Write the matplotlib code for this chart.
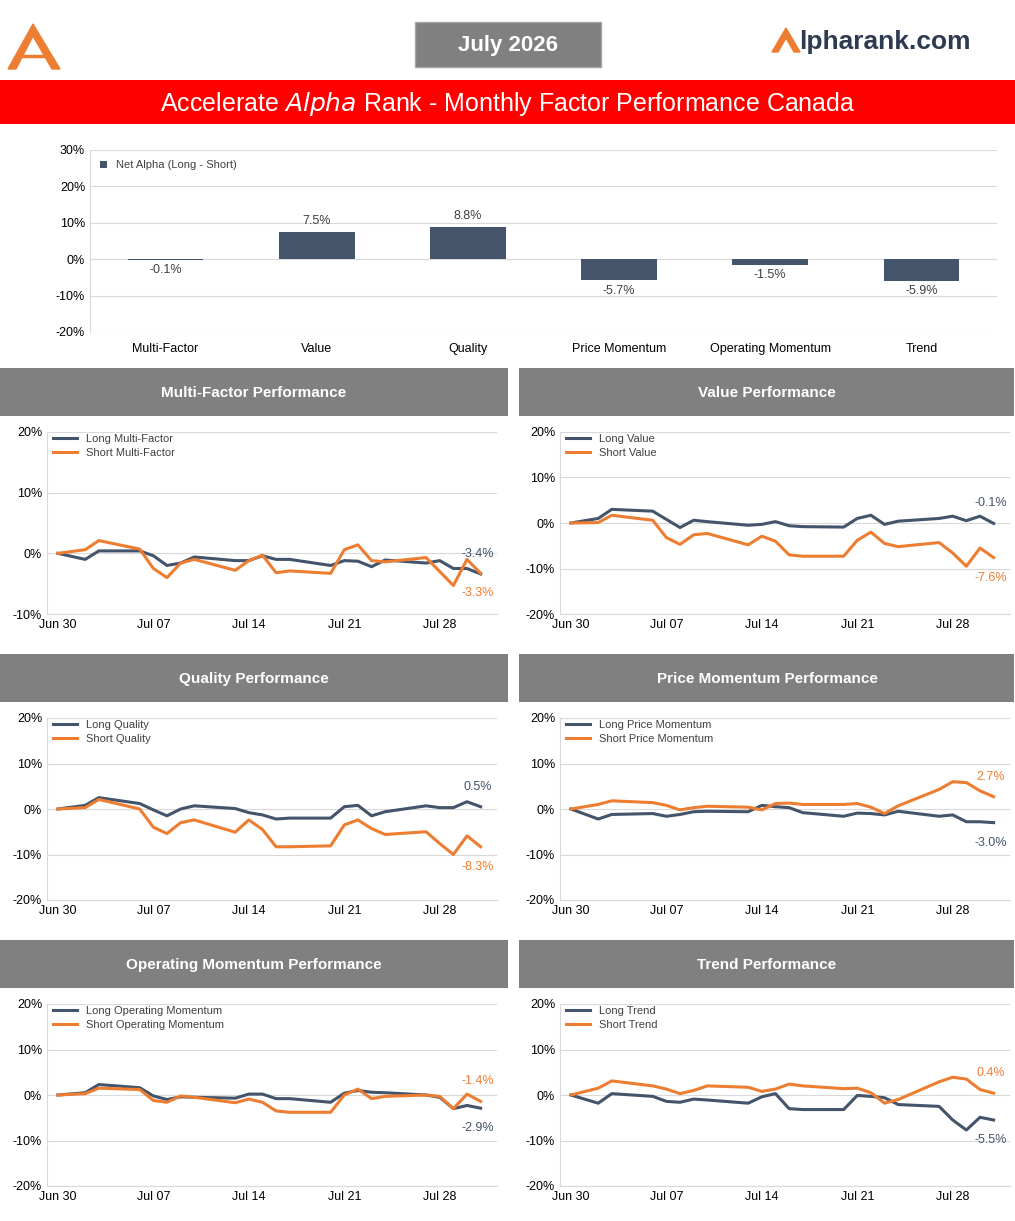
import matplotlib
matplotlib.use('Agg')
import matplotlib.pyplot as plt
from matplotlib.patches import Rectangle, Polygon
from matplotlib.ticker import FuncFormatter

plt.rcParams['font.family'] = ['Liberation Sans', 'DejaVu Sans']

W, H = 1015, 1221
NAVY = '#44546A'
ORANGE = '#ED7D31'
GRID = '#D9D9D9'

factors = ['Multi-Factor', 'Value', 'Quality', 'Price Momentum', 'Operating Momentum', 'Trend']
net_alpha = [-0.1, 7.5, 8.8, -5.7, -1.5, -5.9]

# trading days of July 2026 (Jul 01 holiday), as day offsets from Jun 30
days = [0, 2, 3, 6, 7, 8, 9, 10, 13, 14, 15, 16, 17, 20, 21, 22, 23, 24, 27, 28, 29, 30, 31]
tick_days = [0, 7, 14, 21, 28]
tick_labels = ['Jun 30', 'Jul 07', 'Jul 14', 'Jul 21', 'Jul 28']

long_mf = [0, -1.0, 0.4, 0.4, -0.4, -2.0, -1.6, -0.6, -1.2, -1.2, -0.4, -1.0, -1.0, -2.0, -1.2, -1.3, -2.2, -1.1, -1.6, -1.2, -2.5, -2.5, -3.4]
short_mf = [0, 0.6, 2.1, 0.7, -2.5, -4.0, -1.6, -1.0, -2.8, -1.2, -0.3, -3.2, -2.9, -3.3, 0.6, 1.4, -1.2, -1.4, -0.7, -3.0, -5.3, -1.0, -3.3]
long_val = [0, 1.0, 3.0, 2.6, 0.8, -1.0, 0.6, 0.3, -0.5, -0.3, 0.3, -0.6, -0.8, -0.9, 1.0, 1.7, -0.3, 0.4, 1.0, 1.5, 0.5, 1.5, -0.1]
short_val = [0, 0.1, 1.7, 0.6, -3.2, -4.7, -2.6, -2.3, -4.8, -2.9, -4.0, -7.0, -7.3, -7.3, -3.8, -2.0, -4.5, -5.2, -4.3, -6.6, -9.5, -5.5, -7.6]
long_qual = [0, 0.8, 2.5, 1.2, -0.2, -1.5, 0, 0.7, 0.1, -0.8, -1.3, -2.2, -2.0, -2.0, 0.5, 0.8, -1.5, -0.6, 0.7, 0.3, 0.3, 1.6, 0.5]
short_qual = [0, 0.3, 2.1, 0, -4.0, -5.4, -3.0, -2.4, -5.1, -2.4, -4.5, -8.3, -8.3, -8.1, -3.5, -2.4, -4.3, -5.6, -5.0, -7.6, -10.0, -5.9, -8.3]
long_pm = [0, -2.2, -1.2, -1.0, -1.6, -1.2, -0.6, -0.5, -0.6, 0.8, 0.5, 0.3, -0.8, -1.6, -0.9, -1.0, -1.3, -0.5, -1.6, -1.3, -2.8, -2.8, -3.0]
short_pm = [0, 1.0, 1.8, 1.4, 0.8, -0.2, 0.3, 0.6, 0.4, -0.2, 1.2, 1.3, 1.0, 1.0, 1.2, 0.4, -1.0, 0.7, 4.3, 6.0, 5.8, 4.0, 2.7]
long_om = [0, 0.5, 2.3, 1.6, -0.2, -1.0, -0.4, -0.5, -0.7, 0.2, 0.2, -0.8, -0.8, -1.6, 0.4, 1.0, 0.6, 0.5, 0, -0.5, -3.0, -2.3, -2.9]
short_om = [0, 0.3, 1.5, 1.2, -1.2, -1.6, -0.2, -0.5, -1.7, -0.9, -1.6, -3.5, -3.8, -3.8, 0, 1.3, -0.8, -0.3, 0, -0.3, -3.0, 0.2, -1.4]
long_tr = [0, -1.8, 0.3, -0.3, -1.4, -1.6, -0.9, -1.1, -1.8, -0.4, 0.3, -3.0, -3.2, -3.2, -0.1, -0.3, -0.6, -2.1, -2.5, -5.5, -7.7, -4.9, -5.5]
short_tr = [0, 1.5, 3.1, 2.0, 1.3, 0.3, 1.0, 2.0, 1.7, 0.8, 1.3, 2.4, 2.0, 1.4, 1.5, 0.5, -1.8, -1.0, 2.9, 3.9, 3.5, 1.2, 0.4]

# (name, long, short, y range, panel origin, long label on top)
panels = [
    ('Multi-Factor', long_mf, short_mf, (-10, 20), (0, 368), True),
    ('Value', long_val, short_val, (-20, 20), (519, 368), True),
    ('Quality', long_qual, short_qual, (-20, 20), (0, 654), True),
    ('Price Momentum', long_pm, short_pm, (-20, 20), (519, 654), False),
    ('Operating Momentum', long_om, short_om, (-20, 20), (0, 940), False),
    ('Trend', long_tr, short_tr, (-20, 20), (519, 940), False),
]

fig = plt.figure(figsize=(W / 100, H / 100), dpi=100)


def px_axes(x0, y0, x1, y1, **kw):
    return fig.add_axes([x0 / W, 1 - y1 / H, (x1 - x0) / W, (y1 - y0) / H], **kw)


bg = px_axes(0, 0, W, H)
bg.set_xlim(0, W)
bg.set_ylim(H, 0)
bg.axis('off')

# header
logo = [(8, 69), (33, 24), (60, 69), (52, 69), (33, 36), (16, 69)]
bg.add_patch(Polygon(logo, closed=True, color=ORANGE))
bg.plot([20, 48], [56, 56], color=ORANGE, lw=2.5)
bg.add_patch(Rectangle((415, 22), 186, 45, facecolor='#808080', edgecolor='#A6A6A6'))
bg.text(508, 45, 'July 2026', color='white', fontsize=16, fontweight='bold', ha='center', va='center')
bg.add_patch(Polygon([(772, 52), (786, 28), (800, 52), (794, 52), (786, 38), (778, 52)], color=ORANGE))
bg.text(799, 42, 'lpharank.com', color='#2E3A4F', fontsize=19, fontweight='bold', ha='left', va='center')
bg.add_patch(Rectangle((0, 80), 1015, 44, facecolor='#FF0000', edgecolor='none'))
bg.text(508, 104, 'Accelerate $\\mathbf{\\it{Alpha}}$ Rank - Monthly Factor Performance Canada',
        color='white', fontsize=18, ha='center', va='center')

# bar chart
ax = px_axes(90, 150, 997, 332)
x = range(len(factors))
ax.bar(x, net_alpha, width=0.5, color=NAVY, label='Net Alpha (Long - Short)', zorder=3)
for i, v in enumerate(net_alpha):
    if v >= 0:
        ax.text(i, v + 1.3, f'{v:.1f}%', ha='center', va='bottom', fontsize=9, color='#404040')
    else:
        ax.text(i, v - 1.3, f'{v:.1f}%', ha='center', va='top', fontsize=9, color='#404040')
ax.set_ylim(-20, 30)
ax.set_xlim(-0.5, 5.5)
ax.set_yticks(range(-20, 31, 10))
ax.yaxis.set_major_formatter(FuncFormatter(lambda v, p: f'{v:.0f}%'))
ax.set_xticks(list(x))
ax.set_xticklabels(factors, fontsize=9)
ax.tick_params(length=0, labelsize=9, colors='#000000')
ax.tick_params(axis='x', pad=8)
ax.grid(axis='y', color=GRID, lw=0.8, zorder=0)
for s in ['top', 'right', 'bottom']:
    ax.spines[s].set_visible(False)
ax.spines['left'].set_color(GRID)
ax.legend(loc='upper left', frameon=False, fontsize=8, handlelength=0.6, handleheight=0.6,
          bbox_to_anchor=(0.0, 1.0), labelcolor='#404040')

# line panels
for name, lv, sv, ylim, (px, py), long_top in panels:
    bg.add_patch(Rectangle((px, py), 508 if px == 0 else 495, 48, facecolor='#808080', edgecolor='none'))
    bg.text(px + (254 if px == 0 else 248), py + 25, f'{name} Performance', color='white',
            fontsize=11, fontweight='bold', ha='center', va='center')
    left = 47 if px == 0 else 560
    top = py + 64
    a = px_axes(left, top, left + 450, top + 182)
    a.plot(days, lv, color=NAVY, lw=2.2, label=f'Long {name}')
    a.plot(days, sv, color=ORANGE, lw=2.2, label=f'Short {name}')
    a.set_xlim(-0.8, 32.2)
    a.set_ylim(*ylim)
    a.set_yticks(range(ylim[0], ylim[1] + 1, 10))
    a.yaxis.set_major_formatter(FuncFormatter(lambda v, p: f'{v:.0f}%'))
    a.set_xticks(tick_days)
    a.set_xticklabels(tick_labels)
    a.tick_params(length=0, labelsize=9)
    a.grid(axis='y', color=GRID, lw=0.8)
    for s in ['top', 'right']:
        a.spines[s].set_visible(False)
    a.spines['left'].set_color(GRID)
    a.spines['bottom'].set_color(GRID)
    a.legend(loc='upper left', frameon=False, handlelength=2.2,
             borderaxespad=0.1, labelspacing=0.4, bbox_to_anchor=(0.0, 1.02),
             prop={'size': 8}, labelcolor='#404040')
    span = ylim[1] - ylim[0]
    for val, col, up in [(lv[-1], NAVY, long_top), (sv[-1], ORANGE, not long_top)]:
        a.text(days[-1] - 0.2, val + (0.11 if up else -0.11) * span, f'{val:.1f}%', color=col,
               fontsize=9, ha='center', va='center')

fig.savefig('out.png', dpi=100)
